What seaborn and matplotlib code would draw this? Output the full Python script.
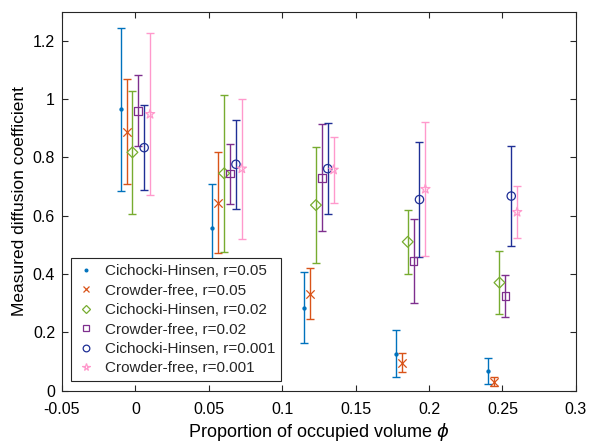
import matplotlib
matplotlib.use("Agg")
import matplotlib.pyplot as plt
import seaborn as sns
import numpy as np
import pandas as pd
from matplotlib.lines import Line2D
from matplotlib.ticker import FuncFormatter, MultipleLocator

# ---- data ----
phi = [0.0, 0.0625, 0.125, 0.1875, 0.25]
offsets = [-0.01, -0.006, -0.002, 0.002, 0.006, 0.01]
labels = ["Cichocki-Hinsen, r=0.05", "Crowder-free, r=0.05",
          "Cichocki-Hinsen, r=0.02", "Crowder-free, r=0.02",
          "Cichocki-Hinsen, r=0.001", "Crowder-free, r=0.001"]
ch005 = [0.965, 0.556, 0.284, 0.126, 0.067]
ch005_err = [0.280, 0.151, 0.121, 0.080, 0.045]
cf005 = [0.888, 0.644, 0.332, 0.095, 0.030]
cf005_err = [0.180, 0.174, 0.087, 0.032, 0.015]
ch002 = [0.817, 0.745, 0.636, 0.510, 0.370]
ch002_err = [0.211, 0.270, 0.200, 0.109, 0.109]
cf002 = [0.959, 0.744, 0.730, 0.444, 0.324]
cf002_err = [0.122, 0.103, 0.183, 0.145, 0.071]
ch0001 = [0.833, 0.776, 0.761, 0.655, 0.667]
ch0001_err = [0.145, 0.153, 0.157, 0.197, 0.171]
cf0001 = [0.948, 0.761, 0.757, 0.691, 0.612]
cf0001_err = [0.278, 0.240, 0.113, 0.230, 0.090]

means = [ch005, cf005, ch002, cf002, ch0001, cf0001]
errs = [ch005_err, cf005_err, ch002_err, cf002_err, ch0001_err, cf0001_err]
colors = ["#0072BD", "#D95319", "#77AC30", "#7E2F8E", "#1F2F96", "#FF99CC"]
markers = ["o", "x", "D", "s", "o", "*"]
msizes = [2.2, 6, 5.5, 5.5, 6, 7]
filled = [True, True, False, False, False, False]

rows = []
for lab, off, m, e in zip(labels, offsets, means, errs):
    for p, v, ee in zip(phi, m, e):
        rows.append({"series": lab, "x": p + off, "y": v, "err": ee})
df = pd.DataFrame(rows)

sns.set_theme(style="ticks")
plt.rcParams["font.family"] = ["Liberation Sans", "DejaVu Sans"]
plt.rcParams["axes.unicode_minus"] = False
plt.rcParams["mathtext.fontset"] = "dejavusans"

fig = plt.figure(figsize=(5.9, 4.43), dpi=100)
ax = fig.add_axes([0.105, 0.1185, 0.871, 0.8555])

handles = []
for lab, c, mk, ms, fl in zip(labels, colors, markers, msizes, filled):
    d = df[df["series"] == lab]
    ax.errorbar(d["x"], d["y"], yerr=d["err"], fmt="none", ecolor=c,
                elinewidth=1.0, capsize=3.2, capthick=1.0, zorder=2)
    sns.scatterplot(x=d["x"], y=d["y"], ax=ax, marker=mk, s=ms ** 2,
                    facecolors=c if fl else "none",
                    edgecolors=c, linewidths=0.9,
                    color=c, legend=False, zorder=3)
    handles.append(Line2D([], [], linestyle="none", marker=mk,
                          markersize=ms * (0.9 if fl and mk == "o" else 0.8),
                          markerfacecolor=c if fl else "none",
                          markeredgecolor=c, markeredgewidth=0.9, color=c, label=lab))

ax.set_xlim(-0.05, 0.3)
ax.set_ylim(0, 1.3)
ax.xaxis.set_major_locator(MultipleLocator(0.05))
ax.set_yticks([0, 0.2, 0.4, 0.6, 0.8, 1.0, 1.2])
fmt = FuncFormatter(lambda v, p: "%g" % round(v, 4))
ax.xaxis.set_major_formatter(fmt)
ax.yaxis.set_major_formatter(fmt)
ax.tick_params(direction="in", length=4, width=0.8, colors="#262626",
               labelsize=11.5, top=True, right=True, labelcolor="black")
ax.tick_params(axis="x", pad=8)
ax.tick_params(axis="y", pad=5)
for s in ax.spines.values():
    s.set_color("#262626")
    s.set_linewidth(0.8)
    s.set_visible(True)
ax.set_xlabel(r"Proportion of occupied volume $\phi$", fontsize=13, color="black", labelpad=3)
ax.set_ylabel("Measured diffusion coefficient", fontsize=12.5, color="black", labelpad=4)

leg = ax.legend(handles=handles, loc="lower left", fontsize=11, frameon=True,
                fancybox=False, framealpha=1, edgecolor="#262626",
                borderaxespad=0.6, handlelength=1.2, handletextpad=0.6,
                labelspacing=0.35, borderpad=0.4)
leg.get_frame().set_linewidth(0.8)

fig.savefig("out.png", dpi=100)
